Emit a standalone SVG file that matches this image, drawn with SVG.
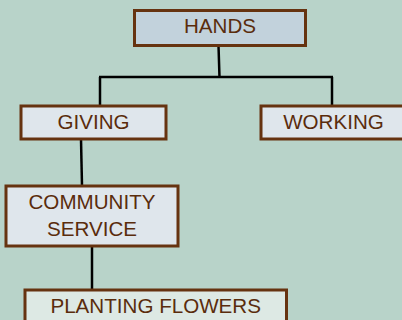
<svg xmlns="http://www.w3.org/2000/svg" width="402" height="320" viewBox="0 0 402 320">
<style>
.box{stroke:#663310;stroke-width:3}
.t{font-family:"Liberation Sans",Arial,sans-serif;font-size:20.6px;fill:#5a2c0c;text-anchor:middle}
.c{stroke:#000;stroke-width:2.5;fill:none}
</style>
<rect width="402" height="320" fill="#b8d3c9"/>
<g id="connectors">
<path class="c" d="M218.5 46 L219.5 77"/>
<path class="c" d="M99 77 L333 77"/>
<path class="c" d="M100 77 L100 106"/>
<path class="c" d="M332 77 L332 106"/>
<path class="c" d="M81 139 L82 186"/>
<path class="c" d="M92 246 L92 290"/>
</g>
<g id="hands">
<rect class="box" x="134.5" y="10.5" width="171" height="35" fill="#c2d2dc"/>
<text class="t" x="220" y="33">HANDS</text>
</g>
<g id="giving">
<rect class="box" x="21" y="106" width="145" height="33" fill="#dfe6ec"/>
<text class="t" x="93.5" y="129">GIVING</text>
</g>
<g id="working">
<rect class="box" x="261" y="106" width="145" height="33" fill="#dfe6ec"/>
<text class="t" x="333.5" y="129">WORKING</text>
</g>
<g id="community">
<rect class="box" x="6" y="186" width="172" height="60" fill="#dfe6ec"/>
<text class="t" x="92" y="209">COMMUNITY</text>
<text class="t" x="92" y="235.5">SERVICE</text>
</g>
<g id="planting">
<rect class="box" x="25" y="290" width="261.5" height="40" fill="#dde9e4"/>
<text class="t" x="155.7" y="312.5">PLANTING FLOWERS</text>
</g>
</svg>
